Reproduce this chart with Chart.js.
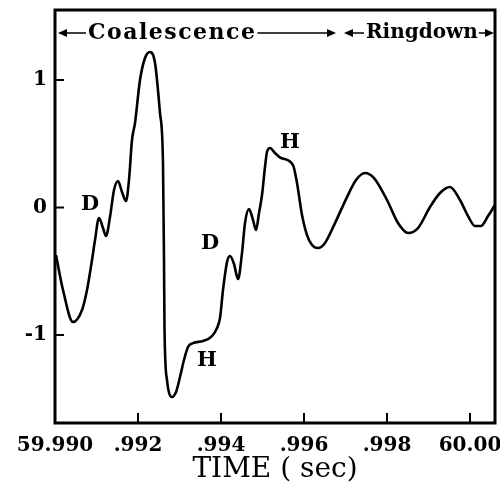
<!DOCTYPE html>
<html>
<head>
<meta charset="utf-8">
<script src="https://cdn.jsdelivr.net/npm/chart.js@4"></script>
<style>
    html, body { margin: 0; padding: 0; background: #ffffff; }
    #wave { display: block; }
</style>
</head>
<body>
<canvas id="wave" width="500" height="490"></canvas>
<script>
// time (sec) and strain amplitude
const times = [
    59.990024, 59.990193, 59.990434, 59.990651, 59.990771, 59.990892, 59.990964, 59.991060,
    59.991157, 59.991229, 59.991325, 59.991422, 59.991518, 59.991614, 59.991711, 59.991783,
    59.991855, 59.991928, 59.992048, 59.992169, 59.992289, 59.992410, 59.992530, 59.992602,
    59.992627, 59.992639, 59.992699, 59.992819, 59.992916, 59.993012, 59.993108, 59.993205,
    59.993325, 59.993566, 59.993783, 59.993904, 59.993976, 59.994048, 59.994145, 59.994217,
    59.994313, 59.994410, 59.994506, 59.994578, 59.994675, 59.994771, 59.994843, 59.994916,
    59.994988, 59.995060, 59.995108, 59.995181, 59.995301, 59.995446, 59.995735, 59.995831,
    59.995952, 59.996072, 59.996193, 59.996337, 59.996506, 59.996747, 59.997036, 59.997253,
    59.997470, 59.997687, 59.998000, 59.998265, 59.998506, 59.998747, 59.999036, 59.999277,
    59.999518, 59.999759, 59.999952, 60.000120, 60.000265, 60.000434, 60.000602
];
const amplitude = [
    -0.373, -0.647, -0.898, -0.804, -0.647, -0.412, -0.255, -0.082,
    -0.161, -0.224, -0.075, 0.137, 0.208, 0.122, 0.051, 0.216,
    0.529, 0.663, 1.000, 1.173, 1.220, 1.133, 0.741, 0.349,
    -0.435, -0.961, -1.353, -1.486, -1.447, -1.329, -1.196, -1.094,
    -1.063, -1.047, -1.008, -0.945, -0.867, -0.647, -0.427, -0.380,
    -0.443, -0.561, -0.357, -0.122, -0.012, -0.098, -0.176, -0.043,
    0.098, 0.318, 0.435, 0.467, 0.427, 0.388, 0.333, 0.192,
    -0.059, -0.216, -0.294, -0.318, -0.278, -0.122, 0.082, 0.216,
    0.271, 0.231, 0.059, -0.122, -0.200, -0.161, 0.004, 0.114,
    0.161, 0.059, -0.067, -0.145, -0.145, -0.067, 0.020
];

const xTickValues = [59.990, 59.992, 59.994, 59.996, 59.998, 60.000];
const xTickLabels = ['59.990', '.992', '.994', '.996', '.998', '60.00'];
const yTickValues = [-1, 0, 1];
const yTickLabels = ['-1', '0', '1'];

// D / H markers on the waveform
const markText = ['D', 'D', 'H', 'H'];
const markTime = [59.990843, 59.993735, 59.993663, 59.995663];
const markAmp = [0.02, -0.286, -1.204, 0.506];

// phase bar across the top
const phaseNames = ['Coalescence', 'Ringdown'];
const phaseStart = [59.990, 59.996867];
const phaseEnd = [59.996867, 60.000602];
const phaseAmp = 1.369;

const serif = '"DejaVu Serif", "Liberation Serif", serif';

const noScalePadding = scale => {
    scale.paddingTop = 0;
    scale.paddingBottom = 0;
    scale.paddingLeft = 0;
    scale.paddingRight = 0;
};

const frameAndNotes = {
    id: 'frameAndNotes',
    afterDatasetsDraw(chart) {
        const ctx = chart.ctx;
        const area = chart.chartArea;
        const xs = chart.scales.x;
        const ys = chart.scales.y;
        ctx.save();
        ctx.strokeStyle = '#000';
        ctx.fillStyle = '#000';

        // box
        ctx.lineWidth = 3;
        ctx.strokeRect(area.left, area.top, area.right - area.left, area.bottom - area.top);

        // inward tick marks
        ctx.lineWidth = 2;
        xTickValues.forEach(v => {
            const px = xs.getPixelForValue(v);
            if (px <= area.left + 2) return;
            ctx.beginPath();
            ctx.moveTo(px, area.bottom);
            ctx.lineTo(px, area.bottom - 10);
            ctx.stroke();
        });
        yTickValues.forEach(v => {
            const py = ys.getPixelForValue(v);
            ctx.beginPath();
            ctx.moveTo(area.left, py);
            ctx.lineTo(area.left + 9, py);
            ctx.stroke();
        });

        // D / H letters
        ctx.font = 'bold 21px ' + serif;
        ctx.textAlign = 'center';
        ctx.textBaseline = 'middle';
        markText.forEach((t, i) => {
            ctx.fillText(t, xs.getPixelForValue(markTime[i]), ys.getPixelForValue(markAmp[i]));
        });

        // phase arrows
        const yy = ys.getPixelForValue(phaseAmp);
        ctx.textAlign = 'left';
        ctx.lineWidth = 1.5;
        const arrow = (x, dir) => {
            ctx.beginPath();
            ctx.moveTo(x, yy);
            ctx.lineTo(x - dir * 9, yy - 4);
            ctx.lineTo(x - dir * 9, yy + 4);
            ctx.closePath();
            ctx.fill();
        };
        phaseNames.forEach((name, i) => {
            ctx.font = (i === 0 ? 'bold 22px ' : 'bold 20px ') + serif;
            ctx.letterSpacing = i === 0 ? '1.5px' : '0px';
            const x0 = xs.getPixelForValue(phaseStart[i]) + (i === 0 ? 3 : 4);
            const x1 = xs.getPixelForValue(phaseEnd[i]) - (i === 0 ? 4 : 1);
            const textX = x0 + (i === 0 ? 30 : 22);
            const w = ctx.measureText(name).width;
            ctx.fillText(name, textX, yy);
            ctx.beginPath();
            ctx.moveTo(x0 + 4, yy);
            ctx.lineTo(textX - 2, yy);
            ctx.moveTo(textX + w + 1, yy);
            ctx.lineTo(x1 - 4, yy);
            ctx.stroke();
            arrow(x0, -1);
            arrow(x1, 1);
        });
        ctx.restore();
    }
};

new Chart(document.getElementById('wave'), {
    type: 'scatter',
    data: {
        datasets: [{
            data: times.map((t, i) => ({ x: t, y: amplitude[i] })),
            showLine: true,
            borderColor: '#000000',
            borderWidth: 2.6,
            pointRadius: 0,
            cubicInterpolationMode: 'monotone'
        }]
    },
    options: {
        responsive: false,
        animation: false,
        layout: { padding: { top: 10, right: 5, left: 0, bottom: 0 } },
        plugins: {
            legend: { display: false },
            tooltip: { enabled: false }
        },
        scales: {
            x: {
                type: 'linear',
                min: 59.990,
                max: 60.000602,
                grid: { display: false },
                border: { display: false },
                afterBuildTicks: scale => {
                    scale.ticks = xTickValues.map(v => ({ value: v }));
                },
                afterFit: scale => { scale.height = 67; noScalePadding(scale); },
                ticks: {
                    color: '#000',
                    padding: 3,
                    maxRotation: 0,
                    autoSkip: false,
                    font: { family: serif, size: 20, weight: 'bold' },
                    callback: (value, index) => xTickLabels[index]
                },
                title: {
                    display: true,
                    text: 'TIME ( sec)',
                    color: '#000',
                    padding: { top: 0, bottom: 3 },
                    font: { family: serif, size: 28 }
                }
            },
            y: {
                type: 'linear',
                min: -1.690,
                max: 1.549,
                grid: { display: false },
                border: { display: false },
                afterBuildTicks: scale => {
                    scale.ticks = yTickValues.map(v => ({ value: v }));
                },
                afterFit: scale => { scale.width = 55; noScalePadding(scale); },
                ticks: {
                    color: '#000',
                    padding: 0,
                    font: { family: serif, size: 20, weight: 'bold' },
                    callback: (value, index) => yTickLabels[index]
                }
            }
        }
    },
    plugins: [frameAndNotes]
});
</script>
</body>
</html>
